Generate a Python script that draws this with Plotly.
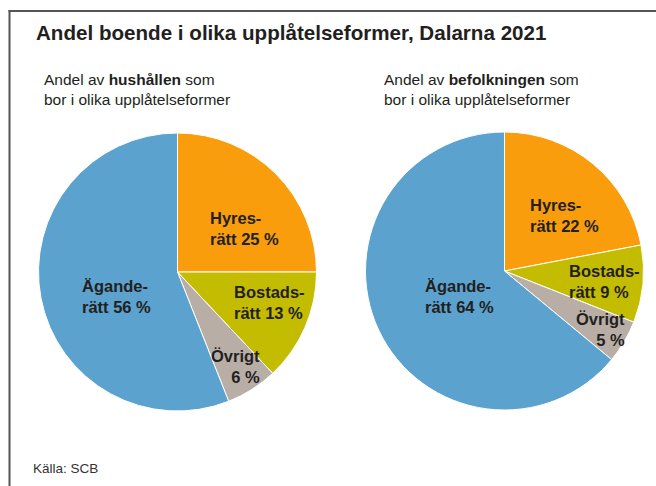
import plotly.graph_objects as go

W, H = 656, 486

# ---- data ----
categories = ["Hyresrätt", "Bostadsrätt", "Övrigt", "Äganderätt"]
label_lines = [("Hyres-", "rätt"), ("Bostads-", "rätt"), ("Övrigt", ""), ("Ägande-", "rätt")]
hushall_values = [25, 13, 6, 56]
befolkning_values = [22, 9, 5, 64]

title_text = "Andel boende i olika upplåtelseformer, Dalarna 2021"
subtitle_left = "Andel av <b>hushållen</b> som<br>bor i olika upplåtelseformer"
subtitle_right = "Andel av <b>befolkningen</b> som<br>bor i olika upplåtelseformer"
source_text = "Källa: SCB"

# ---- styles / layout positions (pixels) ----
colors = ["#F99D0C", "#C3BC00", "#B9AEA6", "#5BA2CF"]
FONT = "Liberation Sans, Arial, sans-serif"
TEXT_COLOR = "#231F20"

pies = [
    dict(values=hushall_values, cx=177.5, cy=272, r=139,
         label_pos=[(208, 228, "left"), (232, 302.5, "left"), (262, 366, "right"), (80, 296, "left")]),
    dict(values=befolkning_values, cx=504.5, cy=271, r=139,
         label_pos=[(528, 215.5, "left"), (567, 281, "left"), (627, 329, "right"), (423, 296.7, "left")]),
]


def px(x):
    return x / W


def py(y):
    return 1 - y / H


fig = go.Figure()
annotations = []
for p in pies:
    fig.add_trace(go.Pie(
        labels=categories,
        values=p["values"],
        sort=False,
        direction="clockwise",
        rotation=0,
        marker=dict(colors=colors, line=dict(color="white", width=1)),
        textinfo="none",
        hoverinfo="label+percent",
        showlegend=False,
        domain=dict(x=[px(p["cx"] - p["r"]), px(p["cx"] + p["r"])],
                    y=[py(p["cy"] + p["r"]), py(p["cy"] - p["r"])]),
    ))
    for (l1, l2), v, (x, y, al) in zip(label_lines, p["values"], p["label_pos"]):
        second = f"{l2} {v} %" if l2 else f"{v} %"
        annotations.append(dict(
            text=f"<b>{l1}<br>{second}</b>", x=px(x), y=py(y), xref="paper", yref="paper",
            xanchor=al, yanchor="middle", align=al, showarrow=False,
            font=dict(family=FONT, size=16.5, color=TEXT_COLOR),
        ))

annotations.append(dict(text=f"<b>{title_text}</b>", x=px(34), y=py(32), xref="paper", yref="paper",
                        xanchor="left", yanchor="middle", align="left", showarrow=False,
                        font=dict(family=FONT, size=20.6, color=TEXT_COLOR)))
for txt, x in [(subtitle_left, 42), (subtitle_right, 382)]:
    annotations.append(dict(text=txt, x=px(x), y=py(89.5), xref="paper", yref="paper",
                            xanchor="left", yanchor="middle", align="left", showarrow=False,
                            font=dict(family=FONT, size=15.5, color=TEXT_COLOR)))
annotations.append(dict(text=source_text, x=px(31), y=py(468), xref="paper", yref="paper",
                        xanchor="left", yanchor="middle", align="left", showarrow=False,
                        font=dict(family=FONT, size=13.5, color="#333333")))

shapes = [
    dict(type="line", xref="paper", yref="paper", x0=px(9.5), x1=px(9.5), y0=py(10), y1=py(H + 5),
         line=dict(color="#555555", width=2)),
    dict(type="line", xref="paper", yref="paper", x0=px(8.5), x1=px(W + 5), y0=py(11), y1=py(11),
         line=dict(color="#555555", width=2)),
]

fig.update_layout(
    width=W, height=H,
    margin=dict(l=0, r=0, t=0, b=0),
    paper_bgcolor="white", plot_bgcolor="white",
    annotations=annotations, shapes=shapes,
    font=dict(family=FONT),
)

fig.write_html("out.html", config={"displayModeBar": False},
               post_script="document.body.style.margin='0';document.body.style.padding='0';")
